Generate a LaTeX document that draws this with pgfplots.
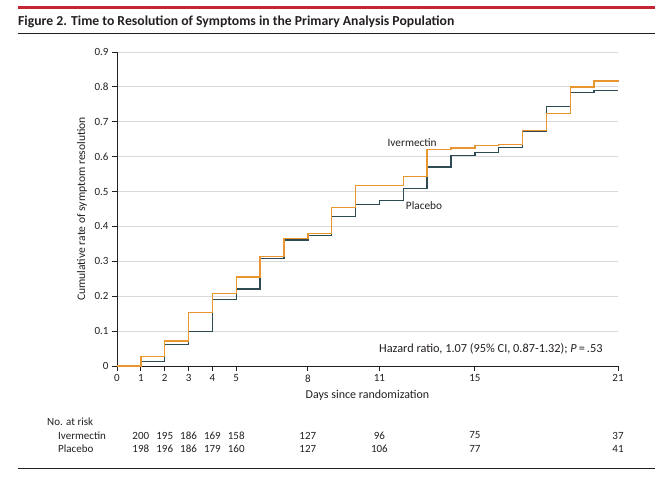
\documentclass[border=0pt]{standalone}
\usepackage{fontspec}
\setmainfont{Carlito}
\usepackage{pgfplots}
\pgfplotsset{compat=1.18}

\definecolor{ivercol}{RGB}{234,150,48}
\definecolor{placcol}{RGB}{46,74,82}
\definecolor{jamared}{RGB}{196,38,52}
\definecolor{gridgray}{RGB}{217,217,217}
\definecolor{txt}{RGB}{35,31,32}

\begin{document}
\begin{tikzpicture}
% the axis origin sits at (0,0); the page runs from (-117pt,366pt) to (553pt,-114pt)
\path[use as bounding box] (-117pt,366pt) rectangle (553pt,-114pt);
% header rules and title
\fill[jamared] (-99pt,359.5pt) rectangle (538pt,356.5pt);
\draw[txt, line width=1pt] (-99pt,332pt) -- (538pt,332pt);
\node[anchor=base west, inner sep=0pt, text=txt,
      font=\fontsize{13.7}{15}\selectfont\bfseries] at (-99pt,340pt)
  {Figure 2. Time to Resolution of Symptoms in the Primary Analysis Population};

\begin{axis}[
    anchor=south west, at={(0pt,0pt)},
    scale only axis, width=501pt, height=314pt,
    xmin=0, xmax=21, ymin=0, ymax=0.9,
    clip=false,
    axis lines*=left,
    axis line style={txt, line width=0.9pt},
    tick style={txt, line width=0.9pt},
    tick align=outside, major tick length=5pt,
    xtick={0,1,2,3,4,5,8,11,15,21},
    ytick={0,0.1,0.2,0.3,0.4,0.5,0.6,0.7,0.8,0.9},
    yticklabels={0,0.1,0.2,0.3,0.4,0.5,0.6,0.7,0.8,0.9},
    /pgf/number format/assume math mode=true,
    ticklabel style={font=\fontsize{11}{13}\selectfont, text=txt},
    ymajorgrids, grid style={gridgray, line width=0.8pt},
    xlabel={Days since randomization},
    ylabel={Cumulative rate of symptom resolution},
    xlabel style={font=\fontsize{12}{14}\selectfont, text=txt,
                  at={(axis description cs:0.5,-0.092)}, anchor=center},
    ylabel style={font=\fontsize{11.6}{14}\selectfont, text=txt,
                  at={(axis description cs:-0.0699,0.5)}, anchor=center},
]
% Placebo
\addplot[const plot, placcol, line width=1.3pt] coordinates {
 (0,0) (1,0.012) (2,0.061) (3,0.098) (4,0.191) (5,0.221) (6,0.309)
 (7,0.361) (8,0.375) (9,0.429) (10,0.462) (11,0.474) (12,0.508)
 (13,0.570) (14,0.604) (15,0.611) (16,0.627) (17,0.672) (18,0.744)
 (19,0.784) (20,0.790) (21,0.790)};
% Ivermectin
\addplot[const plot, ivercol, line width=1.3pt] coordinates {
 (0,0) (1,0.027) (2,0.072) (3,0.154) (4,0.208) (5,0.255) (6,0.314)
 (7,0.366) (8,0.380) (9,0.454) (10,0.517) (11,0.517) (12,0.543)
 (13,0.620) (14,0.625) (15,0.632) (16,0.635) (17,0.675) (18,0.723)
 (19,0.800) (20,0.817) (21,0.820)};

\node[font=\fontsize{11.3}{13}\selectfont, text=txt] at (axis cs:12.37,0.639) {Ivermectin};
\node[font=\fontsize{11.3}{13}\selectfont, text=txt] at (axis cs:12.87,0.461) {Placebo};
\node[anchor=east, font=\fontsize{12.3}{14}\selectfont, text=txt] at (axis cs:20.5,0.049)
  {Hazard ratio, 1.07 (95\% CI, 0.87-1.32); \textit{P}\,=\,.53};
\end{axis}

% number at risk table
\begin{scope}[font=\fontsize{11}{13}\selectfont, text=txt]
\node[anchor=west, inner sep=0pt] at (-70pt,-56pt) {No. at risk};
\node[anchor=west, inner sep=0pt] at (-59pt,-69.5pt) {Ivermectin};
\node[anchor=west, inner sep=0pt] at (-59pt,-82.5pt) {Placebo};
\foreach \d/\a/\b in {1/200/198, 2/195/196, 3/186/186, 4/169/179, 5/158/160,
                      8/127/127, 11/96/106, 15/75/77, 21/37/41} {
  \node[inner sep=0pt] at ({\d*23.857pt},-69.5pt) {\a};
  \node[inner sep=0pt] at ({\d*23.857pt},-82.5pt) {\b};
}
\end{scope}
\draw[txt, line width=1pt] (-99pt,-102pt) -- (538pt,-102pt);
\end{tikzpicture}
\end{document}
